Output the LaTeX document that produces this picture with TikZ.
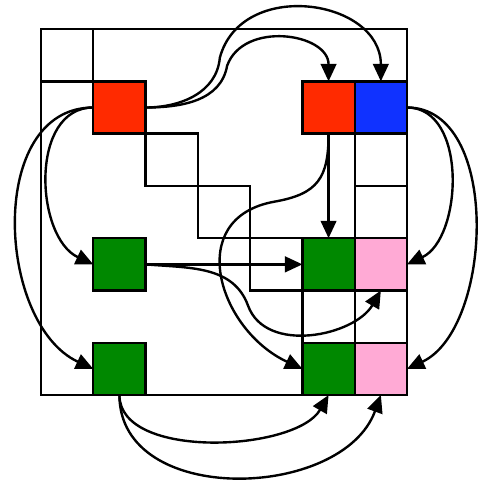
\documentclass[tikz,border=0pt]{standalone}
\usepackage{xcolor}
\usepackage{tikz}
\usetikzlibrary{positioning, arrows.meta}
\definecolor{redblk}{RGB}{255,42,0}
\definecolor{blueblk}{RGB}{16,50,255}
\definecolor{greenblk}{RGB}{0,136,0}
\definecolor{pinkblk}{RGB}{255,170,213}
\tikzstyle{cell} = [rectangle, draw, line width=1.3pt, minimum size=1cm, inner sep=0pt, outer sep=0pt]
\tikzstyle{arrow} = [line width=1.3pt, -{Triangle[length=9.5pt,width=8.5pt]}]

\begin{document}
\begin{tikzpicture}[
    cell/.style={rectangle, draw, line width=1.3pt, minimum size=1cm, inner sep=0pt, outer sep=0pt},
    block/.style={cell, fill=#1},
    frame/.style={draw, line width=1.3pt},
    arrow/.style={line width=1.3pt, -{Triangle[length=9.5pt,width=8.5pt]}}
]
    \useasboundingbox (-0.784,-1.648) rectangle (8.53,7.556);

    % Diagonal blocks
    \node[cell] (c00) at (0.5,6.5) {};
    \node[block=redblk, below right=0cm and 0cm of c00] (red1) {};
    \node[cell, below right=0cm and 0cm of red1] (d22) {};
    \node[cell, below right=0cm and 0cm of d22] (d33) {};
    \node[cell, below right=0cm and 0cm of d33] (d44) {};

    % Top right pair
    \node[block=redblk, right=3cm of red1] (red2) {};
    \node[block=blueblk, right=0cm of red2] (blue1) {};

    % Right column
    \node[cell, below=0cm of blue1] (e26) {};
    \node[cell, below=0cm of e26] (e36) {};
    \node[block=pinkblk, below=0cm of e36] (pink1) {};
    \node[block=greenblk, left=0cm of pink1] (green3) {};
    \node[cell, below=0cm of green3] (e55) {};
    \node[cell, below=0cm of pink1] (e56) {};
    \node[block=greenblk, below=0cm of e55] (green4) {};
    \node[block=pinkblk, below=0cm of e56] (pink2) {};

    % Left column
    \node[block=greenblk, left=3cm of green3] (green1) {};
    \node[block=greenblk, left=3cm of green4] (green2) {};

    % Outer frame
    \draw[frame] (c00.north west) rectangle (pink2.south east);

    % Arrows from the first red block
    \draw[arrow] (red1.east) to[out=0, in=-100] ++(1.56,0.80) to[out=70, in=90, looseness=1.2] (red2.north);
    \draw[arrow] (red1.east) to[out=0, in=-95] ++(1.42,0.95) to[out=75, in=90, looseness=1.3] (blue1.north);
    \draw[arrow] (red1.west) to[out=180, in=155, looseness=1.05] (green1.west);
    \draw[arrow] (red1.west) to[out=180, in=155, looseness=1.05] (green2.west);

    % Arrows from the blue block
    \draw[arrow] (blue1.east) to[out=0, in=25] (pink1.east);
    \draw[arrow] (blue1.east) to[out=0, in=25, looseness=0.93] (pink2.east);

    % Arrows from the second red block
    \draw[arrow] (red2.south) -- (green3.north);
    \draw[arrow] (red2.south) to[out=-90, in=10, looseness=1.3] ++(-1.03,-1.30) to[out=190, in=155, looseness=1.4] (green4.west);

    % Arrows from the green blocks
    \draw[arrow] (green1.east) -- (green3.west);
    \draw[arrow] (green1.east) to[out=-5, in=110] ++(1.96,-0.79) to[out=-70, in=-120] (pink1.south);
    \draw[arrow] (green2.south) to[out=-90, in=-120, looseness=0.8] (green4.south);
    \draw[arrow] (green2.south) to[out=-90, in=-110, looseness=1.1] (pink2.south);

\end{tikzpicture}
\end{document}
